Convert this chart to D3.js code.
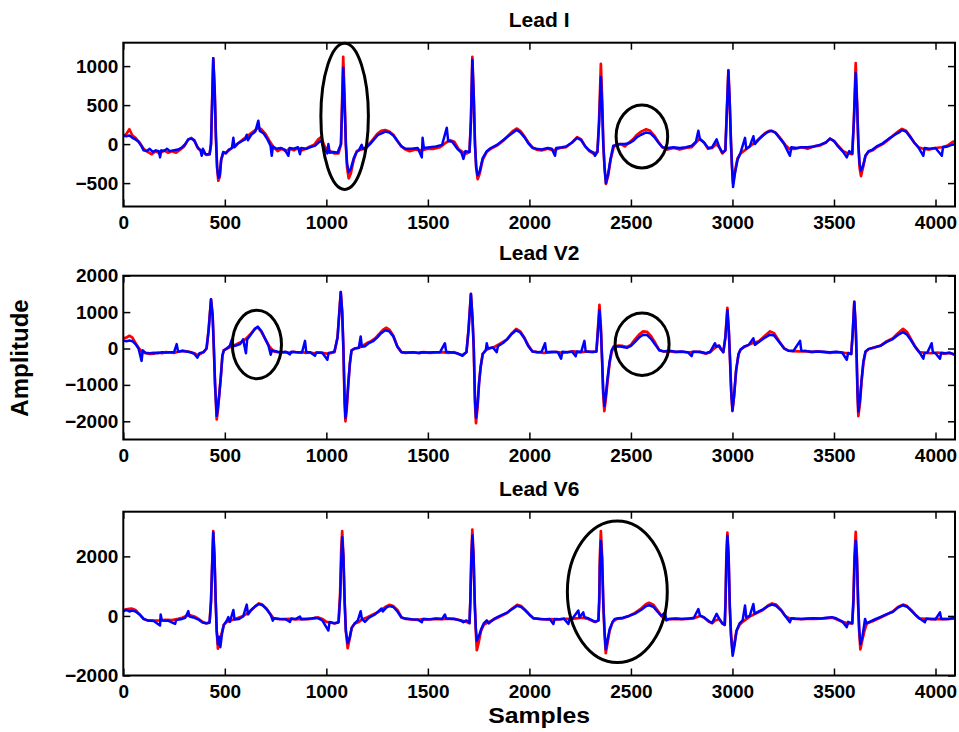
<!DOCTYPE html>
<html>
<head>
<meta charset="utf-8">
<script src="https://cdn.jsdelivr.net/npm/d3@7"></script>
<style>
  html, body { margin: 0; padding: 0; background: #fff; }
  svg { display: block; }
  text { font-family: "Liberation Sans", Arial, Helvetica, sans-serif; font-weight: bold; fill: #000; }
</style>
</head>
<body>
<svg id="chart" width="959" height="732"></svg>
<script>
// ---------- data: [sample, amplitude] ----------
const leadIOriginal = [[0,100],[15,130],[30,190],[45,110],[60,80],[80,20],[100,-60],[120,-100],[140,-130],[160,-90],[180,-120],[200,-80],[220,-110],[240,-90],[260,-110],[280,-70],[300,-30],[320,60],[335,80],[350,40],[370,-60],[390,-100],[410,-140],[425,-130],[432,0],[438,600],[443,1100],[450,700],[456,100],[462,-300],[468,-470],[475,-420],[482,-200],[492,-120],[510,-100],[530,-60],[550,-20],[570,20],[590,60],[610,100],[630,140],[650,180],[665,210],[680,190],[700,130],[720,40],[740,-40],[760,-90],[780,-60],[800,-90],[820,-60],[840,-80],[860,-50],[880,-80],[900,-60],[920,-30],[940,-10],[960,60],[975,90],[990,-20],[1005,-80],[1020,-90],[1040,-120],[1060,-120],[1072,0],[1078,600],[1083,1120],[1090,600],[1096,0],[1102,-300],[1110,-440],[1120,-380],[1135,-200],[1150,-90],[1170,-70],[1190,-60],[1210,0],[1230,60],[1250,130],[1270,170],[1290,180],[1310,160],[1330,120],[1350,40],[1370,-30],[1390,-70],[1410,-90],[1440,-70],[1470,-80],[1500,-60],[1530,-60],[1560,-40],[1590,20],[1610,50],[1630,30],[1650,-60],[1670,-100],[1690,-120],[1705,-100],[1712,300],[1719,1120],[1726,600],[1732,0],[1738,-300],[1745,-450],[1755,-380],[1770,-200],[1790,-100],[1810,-60],[1840,-20],[1870,40],[1900,120],[1920,170],[1937,200],[1955,170],[1975,100],[1995,20],[2015,-40],[2035,-70],[2060,-80],[2090,-60],[2120,-80],[2150,-50],[2180,-40],[2210,20],[2235,90],[2255,60],[2275,-30],[2295,-90],[2315,-120],[2335,-100],[2343,300],[2352,1030],[2358,600],[2364,0],[2370,-300],[2377,-510],[2388,-400],[2400,-200],[2415,-40],[2430,0],[2450,0],[2470,-30],[2490,20],[2510,60],[2530,120],[2550,160],[2575,190],[2595,170],[2615,110],[2635,30],[2655,-40],[2680,-70],[2710,-50],[2740,-70],[2770,-50],[2800,-40],[2820,20],[2840,70],[2860,20],[2880,-60],[2900,-50],[2920,0],[2935,-40],[2950,-120],[2965,-80],[2972,400],[2980,950],[2987,500],[2993,0],[2998,-300],[3003,-500],[3012,-350],[3025,-180],[3040,-120],[3060,-80],[3080,-40],[3100,0],[3120,40],[3140,90],[3160,140],[3180,170],[3195,170],[3215,140],[3240,60],[3260,-10],[3280,-60],[3310,-60],[3340,-40],[3370,-60],[3400,-30],[3430,-20],[3460,20],[3480,70],[3500,40],[3520,-20],[3545,-90],[3570,-120],[3590,-130],[3598,300],[3607,1040],[3614,500],[3620,0],[3626,-300],[3633,-410],[3643,-300],[3655,-150],[3670,-100],[3690,-80],[3710,-40],[3740,0],[3770,60],[3800,130],[3820,170],[3835,195],[3855,170],[3875,100],[3895,20],[3915,-40],[3940,-60],[3970,-70],[4000,-50],[4030,-40],[4060,-20],[4080,20],[4096,40]];

const leadIRecon = [[0,110],[15,100],[30,110],[45,80],[60,60],[75,30],[90,-30],[100,-80],[115,-90],[130,-60],[145,-100],[160,-80],[175,-90],[181,-170],[187,-80],[200,-90],[215,-60],[230,-90],[250,-80],[270,-70],[290,-40],[305,0],[320,60],[335,70],[350,50],[365,-40],[380,-80],[386,-150],[392,-60],[405,-130],[425,-130],[432,0],[438,600],[443,1100],[450,700],[456,100],[462,-300],[468,-430],[475,-400],[482,-200],[492,-100],[505,-120],[520,-70],[535,-50],[542,80],[548,-40],[565,10],[585,40],[600,60],[608,120],[614,50],[630,120],[650,160],[665,300],[672,170],[690,140],[710,60],[725,-20],[731,-150],[737,-30],[755,-60],[775,-50],[795,-70],[813,-150],[819,-50],[840,-60],[860,-40],[870,-130],[876,-50],[900,-60],[920,-40],[945,-20],[965,30],[975,40],[990,-60],[1005,-120],[1010,0],[1016,-110],[1035,-100],[1055,-110],[1072,0],[1078,500],[1083,980],[1090,500],[1096,0],[1102,-250],[1110,-360],[1120,-320],[1135,-180],[1149,-100],[1160,-80],[1174,-10],[1180,-60],[1200,-40],[1215,0],[1235,60],[1255,120],[1275,140],[1290,160],[1310,150],[1330,110],[1350,40],[1370,-30],[1390,-60],[1420,-60],[1450,-50],[1470,-170],[1474,80],[1480,-50],[1510,-40],[1540,-30],[1570,-10],[1593,210],[1600,40],[1620,30],[1645,-60],[1665,-110],[1675,-190],[1685,-90],[1705,-100],[1712,300],[1719,1080],[1726,600],[1732,0],[1738,-300],[1745,-400],[1755,-350],[1770,-180],[1790,-90],[1810,-50],[1840,-10],[1870,50],[1900,110],[1920,150],[1937,180],[1955,150],[1975,90],[1995,10],[2015,-50],[2035,-60],[2060,-70],[2090,-50],[2110,-60],[2126,-150],[2132,-50],[2160,-40],[2180,-30],[2210,20],[2235,80],[2255,50],[2275,-30],[2295,-80],[2315,-110],[2323,-150],[2335,-100],[2343,250],[2352,860],[2358,500],[2364,0],[2370,-300],[2377,-500],[2388,-380],[2400,-180],[2413,-20],[2430,-10],[2450,0],[2470,0],[2490,10],[2510,40],[2530,90],[2550,120],[2575,150],[2595,140],[2615,90],[2635,20],[2655,-40],[2680,-50],[2710,-40],[2740,-50],[2770,-40],[2800,-20],[2820,30],[2832,170],[2840,60],[2860,20],[2880,-50],[2900,-40],[2922,60],[2935,-40],[2950,-110],[2965,-80],[2972,400],[2980,940],[2987,500],[2993,0],[2998,-300],[3003,-550],[3012,-380],[3025,-200],[3040,-110],[3062,80],[3068,-60],[3085,-30],[3103,100],[3110,0],[3130,60],[3150,110],[3170,150],[3190,170],[3210,150],[3235,70],[3255,0],[3283,-150],[3290,-40],[3315,-50],[3340,-40],[3370,-40],[3400,-30],[3430,-10],[3460,20],[3480,70],[3500,40],[3520,-30],[3545,-100],[3563,-170],[3575,-90],[3590,-120],[3598,300],[3607,910],[3614,500],[3620,0],[3626,-250],[3633,-340],[3643,-280],[3655,-150],[3670,-90],[3690,-70],[3710,-30],[3740,10],[3770,70],[3800,120],[3820,150],[3835,180],[3855,160],[3875,90],[3895,20],[3915,-40],[3940,-150],[3946,-50],[3970,-60],[4000,-50],[4031,-150],[4037,-40],[4060,-30],[4080,-10],[4096,0]];

const leadV2Original = [[0,280],[15,300],[30,350],[45,300],[60,150],[75,20],[90,-80],[110,-130],[130,-150],[150,-140],[170,-110],[190,-130],[210,-100],[230,-110],[250,-120],[270,-90],[290,-60],[310,-80],[330,-100],[350,-130],[365,-180],[380,-150],[395,-100],[410,0],[420,500],[432,1350],[440,900],[446,0],[452,-1000],[460,-1950],[466,-1700],[472,-1300],[480,-800],[488,-200],[495,-50],[510,0],[530,50],[550,100],[570,150],[590,200],[610,300],[630,420],[650,550],[662,580],[680,460],[700,250],[720,50],[740,-80],[760,-100],[780,-110],[800,-100],[820,-120],[840,-90],[860,-110],[880,-100],[900,-120],[920,-110],[940,-130],[960,-110],[980,-120],[1000,-140],[1020,-130],[1040,-100],[1055,300],[1071,1550],[1078,1000],[1084,0],[1090,-1500],[1094,-2000],[1100,-1700],[1108,-1000],[1116,-400],[1124,-50],[1140,0],[1160,20],[1180,80],[1200,150],[1220,200],[1240,280],[1260,400],[1280,520],[1295,570],[1310,520],[1330,350],[1350,50],[1370,-100],[1390,-120],[1420,-110],[1450,-120],[1480,-100],[1510,-120],[1540,-110],[1570,-100],[1600,-120],[1630,-100],[1650,-150],[1670,-180],[1690,-100],[1700,500],[1712,1500],[1720,800],[1726,0],[1732,-1500],[1737,-2050],[1745,-1600],[1752,-950],[1760,-500],[1770,-150],[1785,-50],[1800,0],[1830,50],[1860,150],[1890,250],[1910,400],[1935,540],[1955,470],[1975,300],[1995,80],[2015,-80],[2040,-100],[2070,-120],[2100,-110],[2130,-90],[2160,-120],[2190,-100],[2220,-80],[2250,-110],[2280,-80],[2310,-100],[2330,-80],[2337,500],[2345,1200],[2352,600],[2358,-300],[2363,-1200],[2369,-1720],[2376,-1400],[2385,-900],[2395,-400],[2405,-100],[2415,50],[2440,80],[2460,70],[2480,40],[2500,100],[2520,250],[2540,380],[2560,470],[2580,460],[2600,330],[2620,150],[2640,-50],[2660,-80],[2690,-70],[2720,-100],[2750,-90],[2780,-110],[2810,-90],[2840,-100],[2870,-140],[2890,-100],[2910,0],[2930,80],[2945,-30],[2955,-100],[2965,300],[2975,1120],[2982,500],[2988,-300],[2994,-1200],[3000,-1720],[3008,-1300],[3018,-600],[3030,-150],[3040,-30],[3060,50],[3080,100],[3100,150],[3130,200],[3160,350],[3185,470],[3205,420],[3230,200],[3255,0],[3275,-60],[3300,-70],[3330,-80],[3360,-70],[3390,-100],[3420,-80],[3450,-100],[3480,-120],[3510,-100],[3540,-110],[3565,-130],[3585,-150],[3592,400],[3600,1290],[3607,600],[3612,-300],[3616,-1300],[3620,-1860],[3628,-1500],[3636,-900],[3645,-400],[3655,-100],[3670,-20],[3700,30],[3730,80],[3760,200],[3790,280],[3815,420],[3840,540],[3860,450],[3880,250],[3900,50],[3920,-100],[3950,-120],[3980,-130],[4010,-110],[4040,-140],[4070,-120],[4096,-180]];

const leadV2Recon = [[0,220],[15,200],[30,220],[45,200],[60,120],[75,0],[90,-340],[96,-50],[110,-120],[130,-130],[150,-120],[170,-130],[190,-100],[210,-110],[230,-100],[250,-100],[263,120],[270,-90],[290,-70],[310,-80],[330,-100],[350,-150],[365,-250],[375,-130],[395,-100],[410,0],[420,500],[432,1350],[440,900],[446,0],[452,-1000],[460,-1850],[466,-1600],[472,-1300],[480,-800],[488,-200],[495,-50],[510,0],[525,80],[534,240],[540,60],[555,80],[575,120],[590,250],[604,-130],[610,250],[630,400],[650,550],[662,600],[680,480],[700,250],[715,80],[726,-170],[732,-50],[760,-90],[780,-100],[800,-90],[821,-160],[827,-90],[850,-100],[880,-110],[895,210],[901,-100],[920,-100],[944,-200],[950,-110],[980,-120],[1005,-310],[1011,-120],[1030,-100],[1040,-80],[1055,300],[1071,1550],[1078,1000],[1084,0],[1090,-1400],[1094,-1900],[1100,-1600],[1108,-950],[1116,-400],[1124,-50],[1140,0],[1160,20],[1169,330],[1175,50],[1190,60],[1210,150],[1230,200],[1250,300],[1270,420],[1290,500],[1310,470],[1330,330],[1350,50],[1370,-100],[1400,-110],[1430,-100],[1461,-130],[1466,-100],[1500,-110],[1530,-100],[1560,-100],[1584,145],[1590,-90],[1620,-110],[1645,-130],[1670,-200],[1690,-100],[1700,500],[1712,1500],[1720,800],[1726,0],[1732,-1400],[1737,-1900],[1745,-1500],[1752,-950],[1760,-500],[1770,-150],[1785,-50],[1790,145],[1796,0],[1820,30],[1839,-100],[1845,60],[1870,150],[1890,250],[1910,380],[1935,500],[1955,440],[1975,280],[1995,60],[2015,-80],[2040,-100],[2060,-90],[2077,145],[2083,-100],[2110,-90],[2140,-100],[2156,-280],[2162,-90],[2190,-100],[2210,-80],[2228,-210],[2234,-80],[2255,-90],[2271,210],[2277,-80],[2300,-90],[2330,-90],[2337,450],[2345,1050],[2352,500],[2358,-300],[2363,-1100],[2369,-1580],[2376,-1300],[2385,-800],[2395,-350],[2405,-50],[2415,50],[2440,60],[2460,40],[2480,20],[2500,70],[2520,180],[2540,300],[2560,380],[2580,370],[2600,260],[2620,100],[2640,-50],[2660,-80],[2690,-60],[2720,-90],[2750,-80],[2780,-100],[2799,-210],[2805,-90],[2840,-90],[2870,-130],[2890,-90],[2914,145],[2920,50],[2935,80],[2945,-30],[2955,-100],[2965,300],[2975,1050],[2982,500],[2988,-300],[2994,-1200],[3000,-1700],[3008,-1300],[3018,-600],[3030,-150],[3040,-30],[3060,60],[3080,100],[3103,280],[3110,100],[3130,180],[3160,300],[3185,380],[3205,360],[3230,180],[3255,0],[3275,-60],[3300,-70],[3333,210],[3339,-60],[3360,-70],[3390,-90],[3420,-80],[3450,-90],[3480,-100],[3510,-90],[3540,-110],[3563,-310],[3570,-120],[3585,-150],[3592,400],[3600,1280],[3607,600],[3612,-300],[3616,-1200],[3620,-1730],[3628,-1400],[3636,-850],[3645,-350],[3655,-80],[3670,-10],[3700,30],[3730,80],[3760,180],[3790,260],[3815,370],[3840,450],[3860,380],[3880,220],[3900,40],[3920,-100],[3940,-280],[3946,-120],[3960,-110],[3981,145],[3987,-110],[4000,-130],[4022,-280],[4028,-120],[4050,-130],[4070,-120],[4096,-170]];

const leadV6Original = [[0,200],[20,230],[40,250],[60,200],[80,50],[100,-100],[120,-150],[150,-160],[180,-150],[210,-130],[240,-140],[270,-100],[290,-60],[310,0],[330,20],[350,-20],[370,-100],[390,-200],[410,-250],[425,-200],[432,500],[438,1800],[443,2850],[449,2000],[455,500],[460,-500],[466,-1100],[474,-900],[484,-600],[495,-300],[510,-200],[530,-150],[550,-100],[570,-50],[590,0],[610,80],[630,200],[650,330],[668,420],[685,380],[705,250],[725,50],[740,-80],[760,-100],[790,-110],[820,-100],[850,-120],[880,-100],[910,-110],[940,-80],[960,-50],[980,-100],[1000,-200],[1020,-220],[1040,-250],[1060,-200],[1068,800],[1073,2200],[1078,2850],[1084,2000],[1090,500],[1096,-500],[1105,-1080],[1114,-800],[1125,-400],[1140,-250],[1160,-200],[1180,-100],[1200,-50],[1230,50],[1260,150],[1290,300],[1310,370],[1330,330],[1350,200],[1370,-50],[1390,-100],[1420,-120],[1450,-130],[1480,-110],[1510,-120],[1540,-100],[1570,-110],[1600,-90],[1630,-100],[1660,-150],[1690,-200],[1705,-250],[1709,500],[1714,2000],[1719,2900],[1725,2000],[1731,400],[1736,-500],[1741,-1150],[1750,-900],[1762,-500],[1775,-300],[1800,-200],[1830,-100],[1860,0],[1890,100],[1915,250],[1940,370],[1960,330],[1980,200],[2000,50],[2020,-80],[2050,-100],[2080,-120],[2110,-110],[2140,-120],[2170,-100],[2200,-100],[2230,-80],[2260,-60],[2290,-100],[2320,-200],[2340,-150],[2344,600],[2347,2000],[2352,2850],[2358,2000],[2364,400],[2370,-600],[2376,-1250],[2385,-900],[2395,-500],[2410,-200],[2430,-100],[2460,-80],[2490,0],[2520,100],[2550,250],[2575,400],[2590,440],[2610,380],[2630,200],[2650,0],[2665,-100],[2690,-110],[2720,-100],[2750,-110],[2780,-100],[2810,-80],[2840,0],[2860,-50],[2885,-200],[2900,-250],[2915,-150],[2935,-100],[2950,-250],[2962,-300],[2966,500],[2970,2000],[2975,2800],[2981,2000],[2987,300],[2993,-600],[3001,-1200],[3010,-900],[3020,-500],[3035,-300],[3050,-200],[3070,-100],[3090,0],[3120,100],[3150,200],[3175,350],[3195,420],[3215,380],[3240,200],[3260,0],[3280,-80],[3310,-100],[3340,-110],[3370,-100],[3400,-100],[3430,-90],[3460,-80],[3490,-60],[3510,-100],[3540,-200],[3570,-250],[3590,-250],[3596,600],[3601,2000],[3607,2820],[3613,2000],[3619,400],[3624,-500],[3630,-1120],[3640,-800],[3650,-500],[3662,-250],[3680,-200],[3700,-150],[3730,-50],[3760,50],[3790,150],[3815,300],[3840,380],[3860,330],[3880,200],[3900,50],[3920,-80],[3950,-100],[3980,-110],[4010,-100],[4040,-110],[4070,-100],[4096,-80]];

const leadV6Recon = [[0,150],[15,200],[30,150],[45,180],[60,150],[80,50],[100,-100],[120,-150],[150,-170],[181,-320],[184,50],[190,-150],[220,-160],[255,-270],[260,-140],[290,-100],[305,-60],[320,160],[326,-20],[345,-50],[370,-120],[390,-220],[410,-250],[425,-230],[432,500],[438,1800],[443,2800],[449,2000],[455,500],[460,-500],[466,-950],[472,-700],[478,-1050],[486,-600],[495,-300],[510,-150],[517,-40],[525,-200],[542,200],[548,-120],[570,-100],[590,-20],[608,380],[614,50],[630,200],[650,320],[668,400],[685,360],[705,230],[725,50],[736,-160],[742,-80],[770,-100],[800,-110],[821,-200],[827,-90],[850,-100],[870,-20],[876,-110],[900,-100],[920,-90],[945,-60],[960,-80],[980,-150],[1010,-490],[1016,-200],[1040,-250],[1060,-220],[1068,600],[1073,1800],[1078,2640],[1084,2000],[1090,500],[1096,-500],[1105,-920],[1114,-750],[1125,-400],[1140,-250],[1155,-150],[1169,160],[1175,-100],[1190,-200],[1210,-60],[1240,50],[1272,250],[1278,150],[1295,280],[1310,330],[1330,300],[1350,150],[1370,-50],[1390,-90],[1420,-110],[1450,-120],[1470,-210],[1476,-100],[1510,-110],[1540,-90],[1570,-100],[1584,50],[1590,-90],[1630,-100],[1660,-150],[1675,-210],[1690,-150],[1705,-230],[1709,500],[1714,1900],[1719,2700],[1725,2000],[1731,400],[1736,-400],[1741,-830],[1750,-700],[1762,-450],[1775,-250],[1790,-150],[1800,-250],[1830,-80],[1860,20],[1890,110],[1915,230],[1940,340],[1960,300],[1980,180],[2000,40],[2020,-80],[2050,-100],[2080,-110],[2100,-100],[2118,-270],[2124,-100],[2150,-110],[2170,-90],[2192,-270],[2198,-100],[2215,-60],[2241,180],[2247,-50],[2265,120],[2271,-40],[2290,-80],[2310,-150],[2325,-200],[2340,-150],[2344,500],[2347,1700],[2352,2520],[2358,1900],[2364,400],[2370,-500],[2376,-1120],[2385,-800],[2395,-450],[2410,-200],[2420,-100],[2440,-80],[2460,-60],[2490,0],[2520,80],[2550,200],[2575,330],[2590,360],[2610,310],[2630,150],[2650,0],[2668,120],[2674,-150],[2690,-100],[2720,-90],[2750,-100],[2780,-90],[2810,-60],[2832,230],[2840,20],[2860,-50],[2885,-180],[2900,-230],[2922,70],[2935,-100],[2950,-250],[2962,-300],[2966,500],[2970,1900],[2975,2690],[2981,2000],[2987,300],[2993,-700],[3001,-1340],[3010,-1000],[3020,-500],[3035,-250],[3050,-150],[3062,350],[3068,-50],[3085,0],[3103,400],[3109,80],[3130,150],[3150,220],[3175,330],[3195,380],[3215,340],[3240,180],[3260,0],[3283,-210],[3290,-80],[3310,-90],[3340,-100],[3370,-90],[3400,-80],[3430,-90],[3460,-60],[3490,-40],[3510,-80],[3540,-180],[3563,-380],[3570,-200],[3590,-250],[3596,500],[3601,1800],[3607,2520],[3613,1900],[3619,400],[3624,-400],[3630,-950],[3640,-700],[3653,-100],[3660,-250],[3680,-180],[3700,-120],[3730,-30],[3760,60],[3790,140],[3815,280],[3840,360],[3860,310],[3880,180],[3900,40],[3920,-80],[3948,-210],[3954,-90],[3980,-100],[4000,-110],[4022,120],[4028,-100],[4060,-100],[4096,-60]];

// Highlighted regions: [centre sample, centre amplitude, half-width in samples, half-height in amplitude]
const highlightsI  = [[1090, 356, 117, 938], [2554, 98, 127, 403]];
const highlightsV2 = [[658, 110, 121, 940], [2555, 118, 133, 858]];
const highlightsV6 = [[2433, 812, 246, 2376]];

const leadTitles = ["Lead I", "Lead V2", "Lead V6"];
const sampleTicks = [0, 500, 1000, 1500, 2000, 2500, 3000, 3500, 4000];
const sampleDomain = [0, 4096];
const amplitudeDomains = [[-800, 1300], [-2500, 2000], [-2000, 3500]];
const amplitudeTicks = [[-500, 0, 500, 1000], [-2000, -1000, 0, 1000, 2000], [-2000, 0, 2000]];
const xLabel = "Samples";
const yLabel = "Amplitude";

// ---------- layout ----------
const svg = d3.select("#chart");
const left = 123.3, right = 955;
const panelTops = [42.7, 275.7, 511.7];
const panelHeight = 163.8;
const tickLen = 7;

const panels = [
  { title: leadTitles[0], original: leadIOriginal, recon: leadIRecon, marks: highlightsI },
  { title: leadTitles[1], original: leadV2Original, recon: leadV2Recon, marks: highlightsV2 },
  { title: leadTitles[2], original: leadV6Original, recon: leadV6Recon, marks: highlightsV6 }
];

panels.forEach((p, i) => {
  const top = panelTops[i], bottom = top + panelHeight;
  const x = d3.scaleLinear().domain(sampleDomain).range([left, right]);
  const y = d3.scaleLinear().domain(amplitudeDomains[i]).range([bottom, top]);
  const g = svg.append("g");

  const clipId = "clip" + i;
  svg.append("clipPath").attr("id", clipId)
    .append("rect").attr("x", left).attr("y", top).attr("width", right - left).attr("height", panelHeight);

  // ticks on all four sides, pointing inward
  const fmt = d3.format("d");
  const bottomAxis = d3.axisBottom(x).tickValues(sampleTicks).tickFormat(fmt)
    .tickSizeInner(-tickLen).tickSizeOuter(0).tickPadding(9);
  const topAxis = d3.axisTop(x).tickValues(sampleTicks).tickFormat("")
    .tickSizeInner(-tickLen).tickSizeOuter(0);
  const leftAxis = d3.axisLeft(y).tickValues(amplitudeTicks[i]).tickFormat(fmt)
    .tickSizeInner(-tickLen).tickSizeOuter(0).tickPadding(5);
  const rightAxis = d3.axisRight(y).tickValues(amplitudeTicks[i]).tickFormat("")
    .tickSizeInner(-tickLen).tickSizeOuter(0);

  const axes = [
    [bottomAxis, `translate(0,${bottom})`],
    [topAxis, `translate(0,${top})`],
    [leftAxis, `translate(${left},0)`],
    [rightAxis, `translate(${right},0)`]
  ];
  axes.forEach(([ax, tr]) => {
    const a = g.append("g").attr("transform", tr).call(ax);
    a.select(".domain").remove();
    a.selectAll(".tick line").attr("stroke", "#000").attr("stroke-width", 1.5);
    a.selectAll(".tick text").style("font-family", '"Liberation Sans", Arial, sans-serif')
      .style("font-weight", "bold").style("font-size", "19px").attr("fill", "#000");
  });

  const line = d3.line().x(d => x(d[0])).y(d => y(d[1]));
  const plot = g.append("g").attr("clip-path", `url(#${clipId})`);
  plot.append("path").datum(p.original).attr("d", line)
    .attr("fill", "none").attr("stroke", "#ff0000").attr("stroke-width", 2.7)
    .attr("stroke-linejoin", "round");
  plot.append("path").datum(p.recon).attr("d", line)
    .attr("fill", "none").attr("stroke", "#0000ff").attr("stroke-width", 2.5)
    .attr("stroke-linejoin", "round");

  // highlighted regions
  g.selectAll("ellipse.mark").data(p.marks).enter().append("ellipse")
    .attr("class", "mark")
    .attr("cx", d => x(d[0])).attr("cy", d => y(d[1]))
    .attr("rx", d => x(d[2]) - x(0)).attr("ry", d => y(0) - y(d[3]))
    .attr("fill", "none").attr("stroke", "#000").attr("stroke-width", 3);

  // frame
  g.append("rect").attr("x", left).attr("y", top).attr("width", right - left).attr("height", panelHeight)
    .attr("fill", "none").attr("stroke", "#000").attr("stroke-width", 2);

  g.append("text").attr("x", (left + right) / 2).attr("y", top - 16)
    .attr("text-anchor", "middle").style("font-size", "21px").text(p.title);
});

svg.append("text").attr("x", (left + right) / 2).attr("y", 723)
  .attr("text-anchor", "middle").style("font-size", "22px")
  .attr("textLength", 102).attr("lengthAdjust", "spacingAndGlyphs").text(xLabel);
svg.append("text").attr("transform", "translate(28,358) rotate(-90)")
  .attr("text-anchor", "middle").style("font-size", "24px").text(yLabel);
</script>
</body>
</html>
